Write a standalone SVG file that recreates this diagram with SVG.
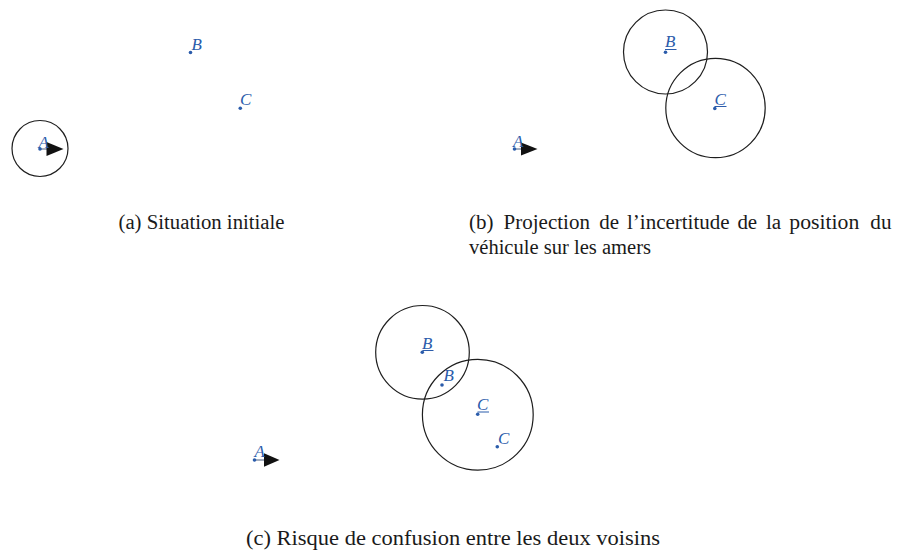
<svg xmlns="http://www.w3.org/2000/svg" width="897" height="554" viewBox="0 0 897 554">
<style>
.bg{fill:#ffffff}
.ring{fill:none;stroke:#1e1e1e;stroke-width:1.2}
.pt{fill:#2b5cab}
.lbl{font-family:"Liberation Serif","Times New Roman",serif;font-style:italic;font-size:17px;fill:#2b5cab}
.ul{stroke:#2b5cab;stroke-width:1}
.stem{stroke:#4a5f80;stroke-width:1}
.head{fill:#111111}
.cap{font-family:"Liberation Serif","Times New Roman",serif;font-size:20px;fill:#1a1a1a}
</style>
<rect class="bg" x="0" y="0" width="897" height="554"/>

<!-- Panel (a) -->
<g id="panel-a">
  <g id="a-uncertainty"><circle class="ring" cx="40" cy="148.5" r="28"/></g>
  <g id="a-vehicle">
    <line class="stem" x1="40" y1="149" x2="47" y2="149"/>
    <path class="head" d="M46.5,142 L63.5,149 L46.5,156 Z"/>
    <circle class="pt" cx="40" cy="149" r="1.8"/>
    <text class="lbl" x="38.5" y="148">A</text>
  </g>
  <g id="a-B"><circle class="pt" cx="190.5" cy="52.5" r="1.8"/><text class="lbl" x="191.5" y="49.5">B</text></g>
  <g id="a-C"><circle class="pt" cx="240.3" cy="108.3" r="1.8"/><text class="lbl" x="240" y="105">C</text></g>
  <text class="cap" x="118.5" y="229" textLength="166" lengthAdjust="spacingAndGlyphs">(a) Situation initiale</text>
</g>

<!-- Panel (b) -->
<g id="panel-b">
  <g id="b-B">
    <circle class="ring" cx="665.5" cy="52" r="42"/>
    <circle class="pt" cx="665.5" cy="52.3" r="1.8"/>
    <text class="lbl" x="665" y="47">B</text>
    <line class="ul" x1="665" y1="49.5" x2="676.5" y2="49.5"/>
  </g>
  <g id="b-C">
    <circle class="ring" cx="715.5" cy="108" r="49.7"/>
    <circle class="pt" cx="714.8" cy="108.5" r="1.8"/>
    <text class="lbl" x="714.5" y="104.5">C</text>
    <line class="ul" x1="714.5" y1="106.5" x2="726.5" y2="106.5"/>
  </g>
  <g id="b-vehicle">
    <line class="stem" x1="514.5" y1="149" x2="521.5" y2="149"/>
    <path class="head" d="M521,142.5 L537.5,149 L521,155.5 Z"/>
    <circle class="pt" cx="514.5" cy="149" r="1.8"/>
    <text class="lbl" x="513" y="147">A</text>
  </g>
  <g id="b-caption" class="cap">
    <text x="469" y="229" textLength="24.5" lengthAdjust="spacingAndGlyphs">(b)</text>
    <text x="503.6" y="229" textLength="86.3" lengthAdjust="spacingAndGlyphs">Projection</text>
    <text x="599.3" y="229" textLength="19.8" lengthAdjust="spacingAndGlyphs">de</text>
    <text x="627" y="229" textLength="102.6" lengthAdjust="spacingAndGlyphs">l’incertitude</text>
    <text x="737.4" y="229" textLength="19.8" lengthAdjust="spacingAndGlyphs">de</text>
    <text x="766" y="229" textLength="15.2" lengthAdjust="spacingAndGlyphs">la</text>
    <text x="789.3" y="229" textLength="70" lengthAdjust="spacingAndGlyphs">position</text>
    <text x="870.3" y="229" textLength="21.2" lengthAdjust="spacingAndGlyphs">du</text>
    <text x="469" y="254" textLength="182" lengthAdjust="spacingAndGlyphs">véhicule sur les amers</text>
  </g>
</g>

<!-- Panel (c) -->
<g id="panel-c">
  <g id="c-B">
    <circle class="ring" cx="422.5" cy="352.3" r="46.8"/>
    <circle class="pt" cx="422.3" cy="352.3" r="1.8"/>
    <text class="lbl" x="422" y="348.5">B</text>
    <line class="ul" x1="422.5" y1="350.5" x2="433.5" y2="350.5"/>
  </g>
  <g id="c-C">
    <circle class="ring" cx="477.8" cy="414.7" r="55.4"/>
    <circle class="pt" cx="477.7" cy="414.3" r="1.8"/>
    <text class="lbl" x="477" y="409.5">C</text>
    <line class="ul" x1="477.5" y1="412" x2="489" y2="412"/>
  </g>
  <g id="c-B2"><circle class="pt" cx="442" cy="385" r="1.8"/><text class="lbl" x="443.5" y="381">B</text></g>
  <g id="c-C2"><circle class="pt" cx="497.3" cy="446.7" r="1.8"/><text class="lbl" x="498" y="443.5">C</text></g>
  <g id="c-vehicle">
    <line class="stem" x1="254.5" y1="460" x2="264.5" y2="460"/>
    <path class="head" d="M264,453.3 L279.5,460 L264,466.7 Z"/>
    <circle class="pt" cx="254.5" cy="460" r="1.8"/>
    <text class="lbl" x="254.5" y="457">A</text>
  </g>
  <text class="cap" x="246" y="545" textLength="414" lengthAdjust="spacingAndGlyphs">(c) Risque de confusion entre les deux voisins</text>
</g>
</svg>
